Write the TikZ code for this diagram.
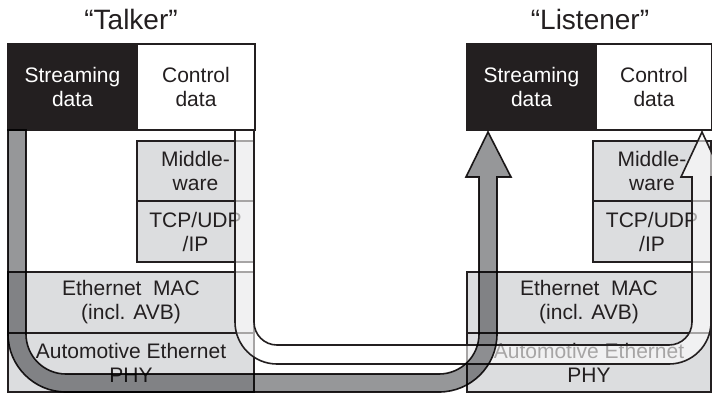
\documentclass[tikz,border=0pt]{standalone}
\usepackage{fontspec}
\setmainfont{Liberation Sans}
\definecolor{ink}{RGB}{35,31,32}
\definecolor{layerfill}{RGB}{220,221,223}
\definecolor{streamgray}{RGB}{150,151,153}
\begin{document}
\begin{tikzpicture}[x=1pt,y=-1pt,
  font=\fontsize{21pt}{24pt}\selectfont,
  box/.style={line width=1.6pt, inner sep=0pt, align=center, draw=ink},
  streambox/.style={box, fill=ink, text=white},
  ctrlbox/.style={box, fill=white, text=ink},
  layerbox/.style={box, fill=layerfill, text=ink},
  band/.style={line width=1.6pt, draw=ink, line join=miter},
  title/.style={text=ink, inner sep=0pt, font=\fontsize{28pt}{32pt}\selectfont}]
\useasboundingbox (0,0) rectangle (712,394);
\clip (0,0) rectangle (712,394);

% titles
\node[title] (talker) at (131,19) {“Talker”};
\node[title] (listener) at (590,19) {“Listener”};

% talker protocol stack
\node[streambox, minimum width=129pt, minimum height=86pt] (streamL) at (72.5,87) {Streaming\\data};
\node[ctrlbox, minimum width=118pt, minimum height=86pt] (ctrlL) at (196,87) {Control\\data};
\node[layerbox, minimum width=117pt, minimum height=60pt] (mwL) at (195.5,171) {Middle-\\ware};
\node[layerbox, minimum width=117pt, minimum height=61pt] (tcpL) at (195.5,231.5) {TCP/UDP\\/IP};
\node[layerbox, minimum width=246pt, minimum height=61pt] (macL) at (131,302.5) {Ethernet\ \ MAC\\(incl. AVB)};
\node[layerbox, minimum width=246pt, minimum height=59pt] (phyL) at (131,362.5) {Automotive Ethernet\\PHY};

% listener protocol stack
\node[streambox, minimum width=129pt, minimum height=86pt] (streamR) at (531.5,87) {Streaming\\data};
\node[ctrlbox, minimum width=116pt, minimum height=86pt] (ctrlR) at (654,87) {Control\\data};
\node[layerbox, minimum width=118pt, minimum height=60pt] (mwR) at (652,171) {Middle-\\ware};
\node[layerbox, minimum width=118pt, minimum height=61pt] (tcpR) at (652,231.5) {TCP/UDP\\/IP};
\node[layerbox, minimum width=244pt, minimum height=61pt] (macR) at (589,302.5) {Ethernet\ \ MAC\\(incl. AVB)};
\node[layerbox, minimum width=244pt, minimum height=59pt] (phyR) at (589,362.5) {Automotive Ethernet\\PHY};

% control data path (translucent light band)
\draw[band, fill=white, fill opacity=0.6]
  (235,130) -- (235,322) arc[start angle=180, end angle=270, radius=42pt]
  -- (669,364) arc[start angle=270, end angle=360, radius=42pt]
  -- (711,177) -- (723,177) -- (702,132) -- (681,177) -- (692,177)
  -- (692,322) arc[start angle=0, end angle=-90, radius=23pt]
  -- (277,345) arc[start angle=270, end angle=180, radius=23pt]
  -- (254,130) -- cycle;

% streaming data path (gray band, multiplied over the layers)
\begin{scope}[blend mode=multiply]
\draw[band, fill=streamgray]
  (8,130) -- (8,334) arc[start angle=180, end angle=270, radius=58pt]
  -- (439,392) arc[start angle=270, end angle=360, radius=58pt]
  -- (497,177) -- (511,177) -- (488,132) -- (466,177) -- (479,177)
  -- (479,334) arc[start angle=0, end angle=-90, radius=40pt]
  -- (66,374) arc[start angle=270, end angle=180, radius=40pt]
  -- (26,130) -- cycle;
\end{scope}
\end{tikzpicture}
\end{document}
